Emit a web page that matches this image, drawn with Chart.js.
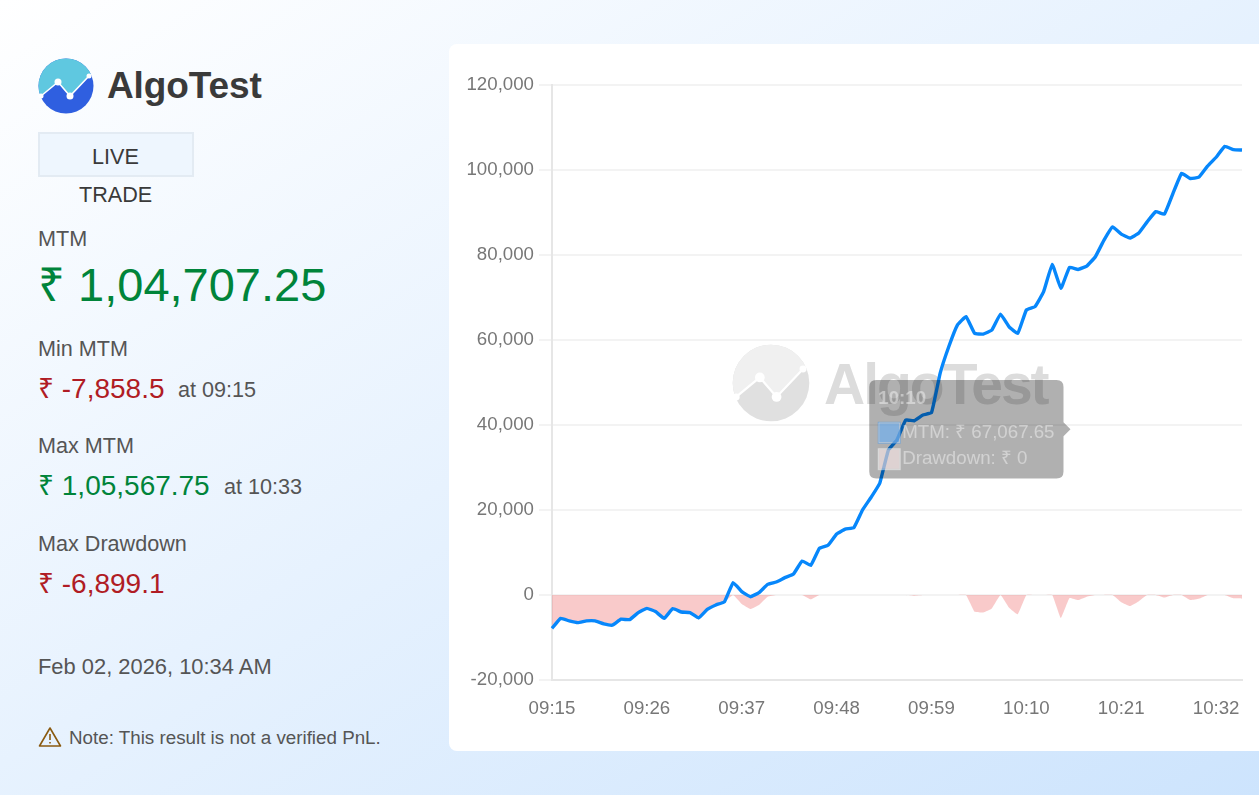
<!DOCTYPE html>
<html>
<head>
<meta charset="utf-8">
<title>AlgoTest</title>
<script src="https://cdn.jsdelivr.net/npm/chart.js@4"></script>
<style>
  html, body { margin: 0; height: 100%; overflow: hidden; }
  body { position: relative; width: 1259px; height: 795px; font-family: 'Liberation Sans', Arial, sans-serif; background: linear-gradient(to bottom right, #ffffff 0%, #cde4fd 100%); }
  .t { position: absolute; white-space: nowrap; line-height: 1; font-size: 21.6px; color: #555; }
  .green { color: #00843a; }
  .red { color: #b01c24; }
  .big { font-size: 28px; }
  .brand { left: 107px; top: 67px; font-size: 37px; font-weight: bold; color: #3a3a3a; letter-spacing: -0.1px; }
  .live { position: absolute; left: 38px; top: 132px; width: 156px; height: 45px; box-sizing: border-box; border: 2px solid #e3ebf3; background: #eef6fe; }
  .card { position: absolute; left: 449px; top: 44px; width: 810px; height: 707px; background: #fff; border-radius: 8px 0 0 8px; }
  .card canvas { position: absolute; left: 0; top: 0; }
  .wm { position: absolute; left: 375px; top: 312px; font-size: 57px; letter-spacing: -2px; font-weight: bold; color: #dcdcdc; line-height: 1; }
</style>
</head>
<body>
<svg style="position:absolute;left:38px;top:58px" width="56" height="56" viewBox="0 0 56 56">
  <defs>
    <clipPath id="logoTop"><polygon points="-1,39 3,38 20,24 32,38 51,18 57,13 57,-1 -1,-1"/></clipPath>
  </defs>
  <circle cx="28" cy="28" r="27.5" fill="#2f5fe0"/>
  <circle cx="28" cy="28" r="27.5" fill="#5fc8e0" clip-path="url(#logoTop)"/>
  <polyline points="3,38 20,24 32,38 51,18" fill="none" stroke="#fff" stroke-width="1.6"/>
  <circle cx="20" cy="24" r="3.5" fill="#fff"/><circle cx="32" cy="38" r="3.5" fill="#fff"/>
  <circle cx="3" cy="38" r="2.5" fill="#fff"/><circle cx="51" cy="18" r="2.5" fill="#fff"/>
</svg>
<div class="t brand">AlgoTest</div>
<div class="live"></div>
<div class="t" style="left:92px;top:146px;color:#3a3a3a">LIVE</div>
<div class="t" style="left:79px;top:184px;color:#3a3a3a">TRADE</div>
<div class="t" style="left:38px;top:228px">MTM</div>
<div class="t green" style="left:38px;top:261px;font-size:47px">₹ 1,04,707.25</div>
<div class="t" style="left:38px;top:338px">Min MTM</div>
<div class="t red big" style="left:38px;top:375px">₹ -7,858.5</div>
<div class="t" style="left:178px;top:379px">at 09:15</div>
<div class="t" style="left:38px;top:435px">Max MTM</div>
<div class="t green big" style="left:38px;top:472px">₹ 1,05,567.75</div>
<div class="t" style="left:224px;top:476px">at 10:33</div>
<div class="t" style="left:38px;top:533px">Max Drawdown</div>
<div class="t red big" style="left:38px;top:570px">₹ -6,899.1</div>
<div class="t" style="left:38px;top:656px;font-size:21.9px">Feb 02, 2026, 10:34 AM</div>
<svg style="position:absolute;left:38px;top:726px" width="24" height="22" viewBox="0 0 24 22">
  <path d="M12 2 L22.5 20 H1.5 Z" fill="none" stroke="#8a5a10" stroke-width="1.6" stroke-linejoin="round"/>
  <path d="M12 8 V14 M12 16 V17.5" stroke="#8a5a10" stroke-width="1.6"/>
</svg>
<div class="t" style="left:69px;top:729px;font-size:18.8px">Note: This result is not a verified PnL.</div>

<div class="card">
  <svg style="position:absolute;left:283px;top:300px" width="78" height="78" viewBox="0 0 56 56">
    <defs>
      <clipPath id="wmTop"><polygon points="-1,39 3,38 20,24 32,38 51,18 57,13 57,-1 -1,-1"/></clipPath>
    </defs>
    <circle cx="28" cy="28" r="27.5" fill="#e0e0e0"/>
    <circle cx="28" cy="28" r="27.5" fill="#f0f0f0" clip-path="url(#wmTop)"/>
    <polyline points="3,38 20,24 32,38 51,18" fill="none" stroke="#fff" stroke-width="1.6"/>
    <circle cx="20" cy="24" r="3.5" fill="#fff"/><circle cx="32" cy="38" r="3.5" fill="#fff"/>
    <circle cx="3" cy="38" r="2.5" fill="#fff"/><circle cx="51" cy="18" r="2.5" fill="#fff"/>
  </svg>
  <div class="wm">AlgoTest</div>
  <canvas id="pnlChart" width="810" height="707"></canvas>
</div>

<script>
const timeLabels = [
  '09:15','09:16','09:17','09:18','09:19','09:20','09:21','09:22','09:23','09:24','09:25',
  '09:26','09:27','09:28','09:29','09:30','09:31','09:32','09:33','09:34','09:35','09:36',
  '09:37','09:38','09:39','09:40','09:41','09:42','09:43','09:44','09:45','09:46','09:47',
  '09:48','09:49','09:50','09:51','09:52','09:53','09:54','09:55','09:56','09:57','09:58',
  '09:59','10:00','10:01','10:02','10:03','10:04','10:05','10:06','10:07','10:08','10:09',
  '10:10','10:11','10:12','10:13','10:14','10:15','10:16','10:17','10:18','10:19','10:20',
  '10:21','10:22','10:23','10:24','10:25','10:26','10:27','10:28','10:29','10:30','10:31',
  '10:32','10:33','10:34','10:35'
];
const mtmValues = [
  -7858.5,-5490,-6100,-6500,-6100,-6100,-6800,-7100,-5700,-5800,-4150,
  -3140,-3900,-5500,-3200,-4000,-4150,-5400,-3400,-2350,-1570,2900,
  780,-400,550,2500,3060,4080,4940,8000,6980,10980,11700,
  14350,15500,15850,20000,23000,26300,34100,36500,41170,41000,42350,
  42900,52150,58400,63500,65500,61560,61400,62350,66100,63100,61560,
  67067.65,67840,71370,77800,72150,77100,76600,77400,79600,83500,86600,
  84900,84000,85100,87800,90200,89600,94500,99200,98000,98300,100900,
  103000,105567.75,104800,104707.25
];
const drawdownValues = [
  -7858.5,-5490,-6100,-6500,-6100,-6100,-6800,-7100,-5700,-5800,-4150,
  -3140,-3900,-5500,-3200,-4000,-4150,-5400,-3400,-2350,-1570,0,
  -2120,-3300,-2350,-400,0,0,0,0,-1020,0,0,
  0,0,0,0,0,0,0,0,0,-170,0,
  0,0,0,0,0,-3940,-4100,-3150,0,-3000,-4540,
  0,0,0,0,-5400,-700,-1200,-400,0,0,0,
  -1700,-2600,-1500,0,0,-600,0,0,-1200,-900,0,
  0,0,-770,-860
];
const tickEvery = 11;

// tooltip sits where the screenshot froze it, mid fade-out
Chart.Tooltip.positioners.frozen = function () {
  const { x, y } = this.chart.scales;
  return { x: x.getPixelForValue(60) + 1, y: y.getPixelForValue(39000), xAlign: 'right', yAlign: 'center' };
};

const tickFont = { family: 'Liberation Sans', size: 18.7 };

const chart = new Chart(document.getElementById('pnlChart'), {
  type: 'line',
  data: {
    labels: timeLabels,
    datasets: [
      {
        label: 'MTM',
        data: mtmValues,
        borderColor: '#0787fb',
        backgroundColor: '#0787fb',
        borderWidth: 3.4, pointRadius: 0, tension: 0.1, fill: false
      },
      {
        label: 'Drawdown',
        data: drawdownValues,
        borderColor: 'rgba(0,0,0,0)',
        backgroundColor: 'rgba(240,128,128,0.42)',
        borderWidth: 0, pointRadius: 0, tension: 0.1, fill: 'origin'
      }
    ]
  },
  options: {
    responsive: false, animation: false, devicePixelRatio: 1,
    layout: { padding: { top: 41, right: 17 } },
    plugins: {
      legend: { display: false },
      tooltip: {
        position: 'frozen',
        backgroundColor: 'rgba(0,0,0,0.31)',
        titleColor: 'rgba(255,255,255,0.42)',
        bodyColor: 'rgba(255,255,255,0.42)',
        titleFont: { family: 'Liberation Sans', size: 18.7, weight: 'bold' },
        bodyFont: { family: 'Liberation Sans', size: 18.7 },
        padding: { x: 9, y: 8 }, cornerRadius: 7, caretSize: 7, caretPadding: 0,
        boxWidth: 22, boxHeight: 21, boxPadding: 0,
        titleMarginBottom: 11, bodySpacing: 4,
        multiKeyBackground: 'rgba(255,255,255,0.4)',
        callbacks: {
          label: ctx => ctx.dataset.label + ': ₹ ' + ctx.raw.toLocaleString('en-IN'),
          labelColor: ctx => ctx.datasetIndex === 0
            ? { borderColor: 'rgba(70,150,230,0.5)', backgroundColor: 'rgba(70,150,230,0.55)' }
            : { borderColor: 'rgba(255,255,255,0.4)', backgroundColor: 'rgba(250,215,215,0.35)' }
        }
      }
    },
    scales: {
      x: {
        afterFit: s => { s.height = 71; },
        grid: { display: false },
        border: { color: '#e6e6e6', width: 2 },
        ticks: {
          autoSkip: false, maxRotation: 0, color: '#777', font: tickFont, padding: 10,
          callback: (v, i) => i % tickEvery === 0 ? timeLabels[i] : null
        }
      },
      y: {
        min: -20000, max: 120000,
        afterFit: s => { s.width = 103; },
        grid: { color: '#f3f3f3', lineWidth: 2, tickLength: 13 },
        border: { color: '#e6e6e6', width: 2 },
        ticks: {
          stepSize: 20000, color: '#777', font: tickFont, padding: 5,
          callback: v => v.toLocaleString('en-US')
        }
      }
    }
  }
});

chart.tooltip.setActiveElements([
  { datasetIndex: 0, index: 55 },
  { datasetIndex: 1, index: 55 }
], { x: 0, y: 0 });
chart.update();
</script>
</body>
</html>
